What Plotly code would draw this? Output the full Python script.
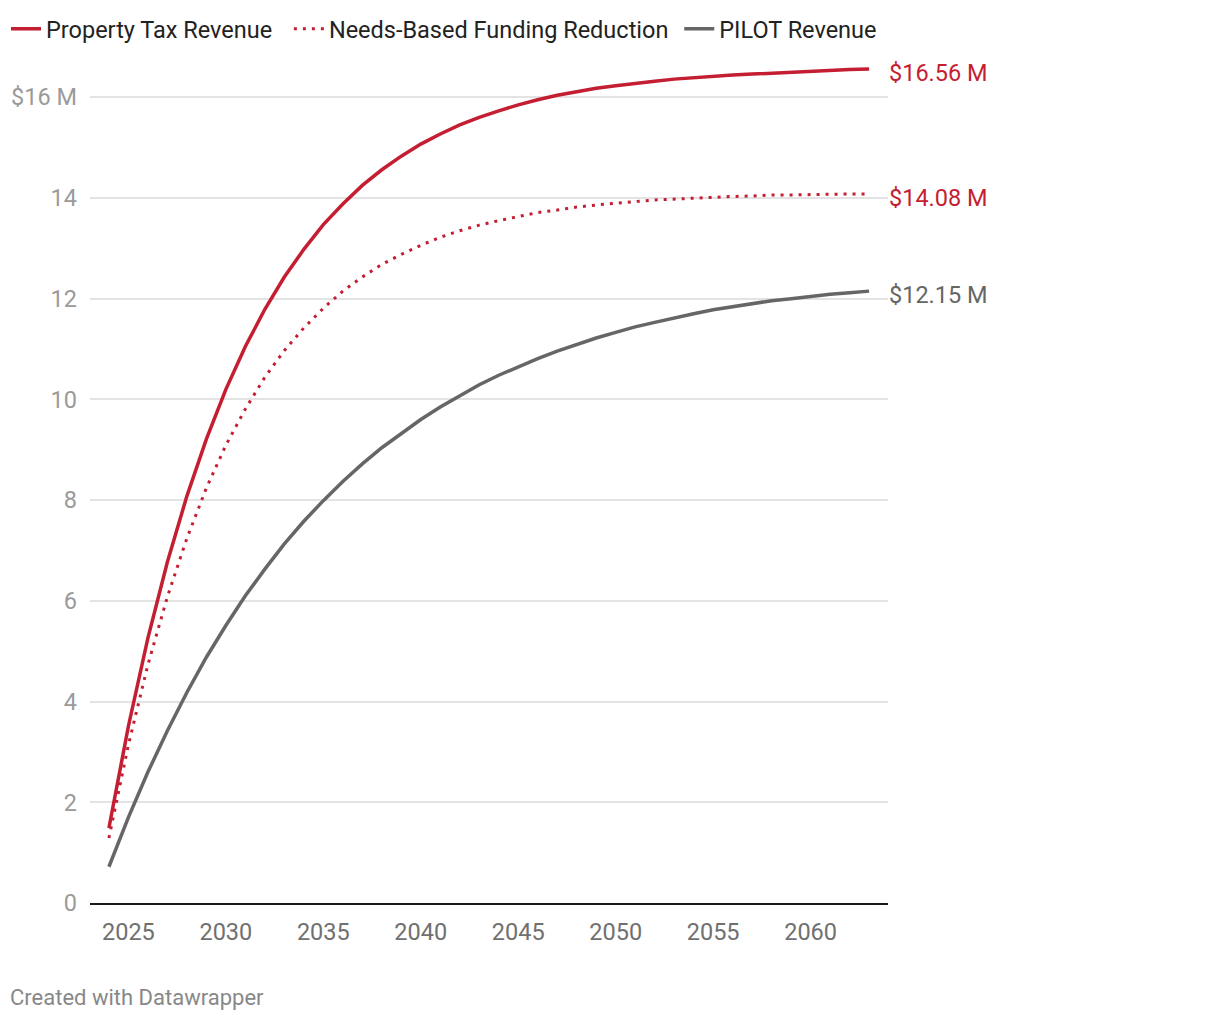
import plotly.graph_objects as go

years = list(range(2024, 2064))

property_tax = [1.49, 3.51, 5.26, 6.77, 8.08, 9.21, 10.20, 11.05, 11.79, 12.43,
                12.98, 13.47, 13.88, 14.25, 14.56, 14.83, 15.07, 15.27, 15.45, 15.60,
                15.73, 15.85, 15.95, 16.04, 16.11, 16.18, 16.23, 16.28, 16.32, 16.36,
                16.39, 16.42, 16.44, 16.46, 16.48, 16.50, 16.52, 16.54, 16.55, 16.56]

needs_based = [1.29, 3.14, 4.73, 6.08, 7.24, 8.24, 9.09, 9.81, 10.44, 10.97,
               11.42, 11.81, 12.15, 12.43, 12.68, 12.88, 13.06, 13.22, 13.35, 13.46,
               13.55, 13.63, 13.71, 13.76, 13.82, 13.86, 13.90, 13.93, 13.96, 13.98,
               14.00, 14.02, 14.03, 14.04, 14.06, 14.06, 14.07, 14.08, 14.08, 14.08]

pilot = [0.72, 1.70, 2.60, 3.42, 4.18, 4.88, 5.51, 6.10, 6.63, 7.13,
         7.58, 7.99, 8.37, 8.72, 9.04, 9.33, 9.60, 9.85, 10.08, 10.29,
         10.48, 10.65, 10.81, 10.96, 11.09, 11.22, 11.33, 11.44, 11.53, 11.62,
         11.70, 11.78, 11.84, 11.91, 11.96, 12.00, 12.05, 12.09, 12.12, 12.15]

series_names = ["Property Tax Revenue", "Needs-Based Funding Reduction", "PILOT Revenue"]
end_labels = ["$16.56 M", "$14.08 M", "$12.15 M"]

y_tickvals = [0, 2, 4, 6, 8, 10, 12, 14, 16]
y_ticktext = ["0", "2", "4", "6", "8", "10", "12", "14", "$16 M"]
x_tickvals = [2025, 2030, 2035, 2040, 2045, 2050, 2055, 2060]

RED = "#c41e32"
GREY = "#666666"
FONT = "Roboto"

ML, MR, MT, MB = 82, 340, 54, 125
W, H = 1220, 1020
PW, PH = W - ML - MR, H - MT - MB

# extra (invisible) spacing after legend entries to widen the gaps between items
legend_pad = ["\u00a0\u00a0", "\u00a0", ""]

fig = go.Figure()
fig.add_trace(go.Scatter(x=years, y=property_tax, mode="lines", name=series_names[0] + legend_pad[0],
                         line=dict(color=RED, width=3.5)))
fig.add_trace(go.Scatter(x=years, y=needs_based, mode="lines", name=series_names[1] + legend_pad[1],
                         line=dict(color=RED, width=3, dash="3px,6px")))
fig.add_trace(go.Scatter(x=years, y=pilot, mode="lines", name=series_names[2] + legend_pad[2],
                         line=dict(color=GREY, width=3.5)))

label_colors = [RED, RED, GREY]
last_vals = [property_tax[-1], needs_based[-1], pilot[-1]]
for txt, val, col in zip(end_labels, last_vals, label_colors):
    fig.add_annotation(x=years[-1], y=val, xref="x", yref="y", text=txt,
                       showarrow=False, xanchor="left", yanchor="middle",
                       xshift=18, yshift=-4,
                       font=dict(family=FONT, size=23.5, color=col))

fig.add_annotation(xref="paper", yref="paper",
                   x=(0 - ML) / PW, y=-(989 - (H - MB)) / PH,
                   text="Created with Datawrapper", showarrow=False,
                   xanchor="left", yanchor="middle",
                   font=dict(family=FONT, size=22, color="#888888"))

fig.update_layout(
    width=W, height=H,
    margin=dict(l=ML, r=MR, t=MT, b=MB, autoexpand=False),
    paper_bgcolor="white", plot_bgcolor="white",
    font=dict(family=FONT, size=23, color="#333333"),
    showlegend=True,
    hovermode=False,
    legend=dict(orientation="h", xref="paper", yref="paper",
                x=(-2 - ML) / PW, y=1 + (MT + 1) / PH, xanchor="left", yanchor="top",
                font=dict(family=FONT, size=23.5, color="#222222"),
                tracegroupgap=0, bgcolor="rgba(0,0,0,0)"),
    xaxis=dict(range=[2023.03, 2063.97], tickmode="array", tickvals=x_tickvals,
               showgrid=False, zeroline=False, showline=True, linecolor="#1a1a1a",
               linewidth=2, ticks="", ticklabelstandoff=7, automargin=False,
               tickfont=dict(family=FONT, size=23.5, color="#707070")),
    yaxis=dict(range=[0, 16.7], tickmode="array", tickvals=y_tickvals, ticktext=y_ticktext,
               showgrid=True, gridcolor="#e3e3e3", gridwidth=1.5, zeroline=False,
               showline=False, ticks="", ticklabelstandoff=12, automargin=False,
               tickfont=dict(family=FONT, size=23.5, color="#9a9a9a")),
)

fig.write_html("out.html")
